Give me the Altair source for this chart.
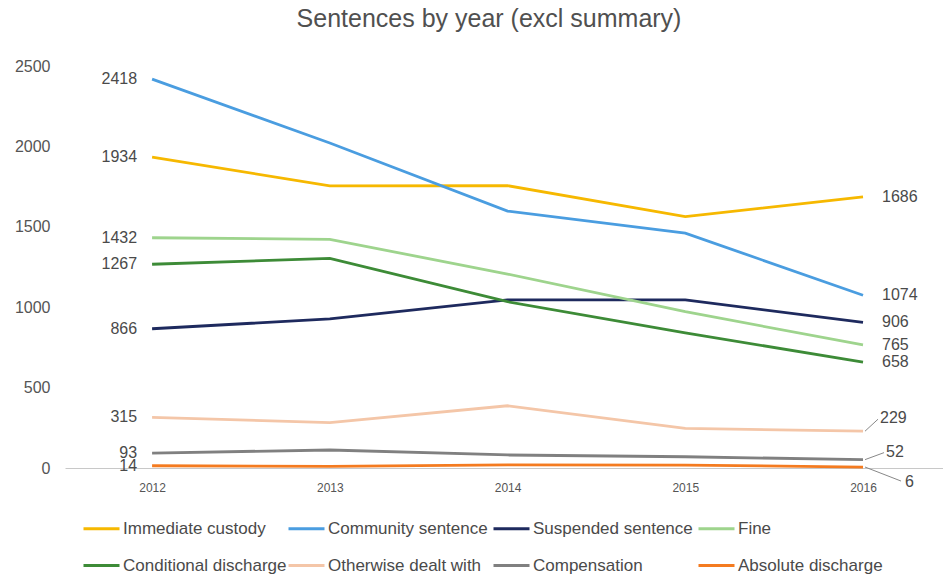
import altair as alt
import pandas as pd

years = [2012, 2013, 2014, 2015, 2016]
series = ["Immediate custody", "Community sentence", "Suspended sentence", "Fine",
          "Conditional discharge", "Otherwise dealt with", "Compensation", "Absolute discharge"]
immediate_custody = [1934, 1754, 1756, 1563, 1686]
community_sentence = [2418, 2021, 1598, 1461, 1074]
suspended_sentence = [866, 927, 1045, 1045, 906]
fine = [1432, 1422, 1206, 972, 765]
conditional_discharge = [1267, 1304, 1034, 841, 658]
otherwise_dealt_with = [315, 282, 387, 247, 229]
compensation = [93, 112, 81, 70, 52]
absolute_discharge = [14, 10, 20, 18, 6]
colors = ["#F6B800", "#4A9DE0", "#1E2A5E", "#9ED48D",
          "#3D8B37", "#F4C6A8", "#808080", "#F47B20"]

values = [immediate_custody, community_sentence, suspended_sentence, fine,
          conditional_discharge, otherwise_dealt_with, compensation, absolute_discharge]

rows = []
for s, vals in zip(series, values):
    for y, v in zip(years, vals):
        rows.append({"series": s, "year": y, "value": v})
df = pd.DataFrame(rows)

FONT = "Liberation Sans"
TXT = "#4a4a4a"

color = alt.Color("series:N", scale=alt.Scale(domain=series, range=colors),
                  sort=series,
                  legend=alt.Legend(title=None, orient="none", legendX=17, legendY=443,
                                    columns=4, direction="horizontal", gridAlign="all",
                                    symbolType="stroke", symbolSize=1296,
                                    symbolStrokeWidth=3,
                                    labelFont=FONT, labelFontSize=17, labelColor=TXT,
                                    labelOffset=2, columnPadding=-5, rowPadding=9,
                                    padding=0, labelLimit=300))

x = alt.X("year:Q", scale=alt.Scale(domain=[2011.51, 2016.45], nice=False, zero=False),
          axis=alt.Axis(title=None, values=years, format="d", grid=False, ticks=False,
                        domain=True, domainColor="#C8C8C8", domainWidth=1,
                        labelFont=FONT, labelFontSize=12, labelColor="#555555",
                        labelPadding=14))
y = alt.Y("value:Q", scale=alt.Scale(domain=[0, 2500], nice=False),
          axis=alt.Axis(title=None, values=[0, 500, 1000, 1500, 2000, 2500], format="d",
                        grid=False, ticks=False, domain=False, labelFont=FONT,
                        labelFontSize=16, labelColor="#555555", labelPadding=15))

lines = alt.Chart(df).mark_line(strokeWidth=2.8).encode(x=x, y=y, color=color,
                                                         order=alt.Order("year:Q"))

first = df[df["year"] == years[0]]
last = df[df["year"] == years[-1]]
special = ["Otherwise dealt with", "Compensation", "Absolute discharge"]

left_labels = alt.Chart(first).mark_text(align="right", baseline="middle", dx=-15,
                                         font=FONT, fontSize=16, color=TXT).encode(
    x="year:Q", y="value:Q", text="value:Q")

right_norm = alt.Chart(last[~last["series"].isin(special)]).mark_text(
    align="left", baseline="middle", dx=19, font=FONT, fontSize=16, color=TXT).encode(
    x="year:Q", y="value:Q", text="value:Q")

offsets = {"Otherwise dealt with": (17, -13, 15, -12),
           "Compensation": (23, -8, 21, -7),
           "Absolute discharge": (42, 15, 38, 14)}
layers = [lines, left_labels, right_norm]
for s in special:
    dx, dy, lx, ly = offsets[s]
    sub = last[last["series"] == s]
    layers.append(alt.Chart(sub).mark_text(align="left", baseline="middle", dx=dx, dy=dy,
                                           font=FONT, fontSize=16, color=TXT).encode(
        x="year:Q", y="value:Q", text="value:Q"))
    layers.append(alt.Chart(sub).mark_rule(color="#888888", strokeWidth=1, xOffset=2,
                                           x2Offset=lx, y2Offset=ly).encode(
        x="year:Q", y="value:Q", x2="year:Q", y2="value:Q"))

chart = alt.layer(*layers).properties(
    width=878, height=402,
    title=alt.TitleParams("Sentences by year (excl summary)", font=FONT, fontSize=25,
                          fontWeight="normal", color="#505050", anchor="middle",
                          frame="group", dx=-15, offset=1, baseline="bottom"),
    autosize=alt.AutoSizeParams(type="none"),
    padding={"left": 65, "top": 66, "right": 0, "bottom": 109},
).configure_view(stroke=None)

chart.save("out.html", embed_options={"renderer": "svg", "actions": False})
